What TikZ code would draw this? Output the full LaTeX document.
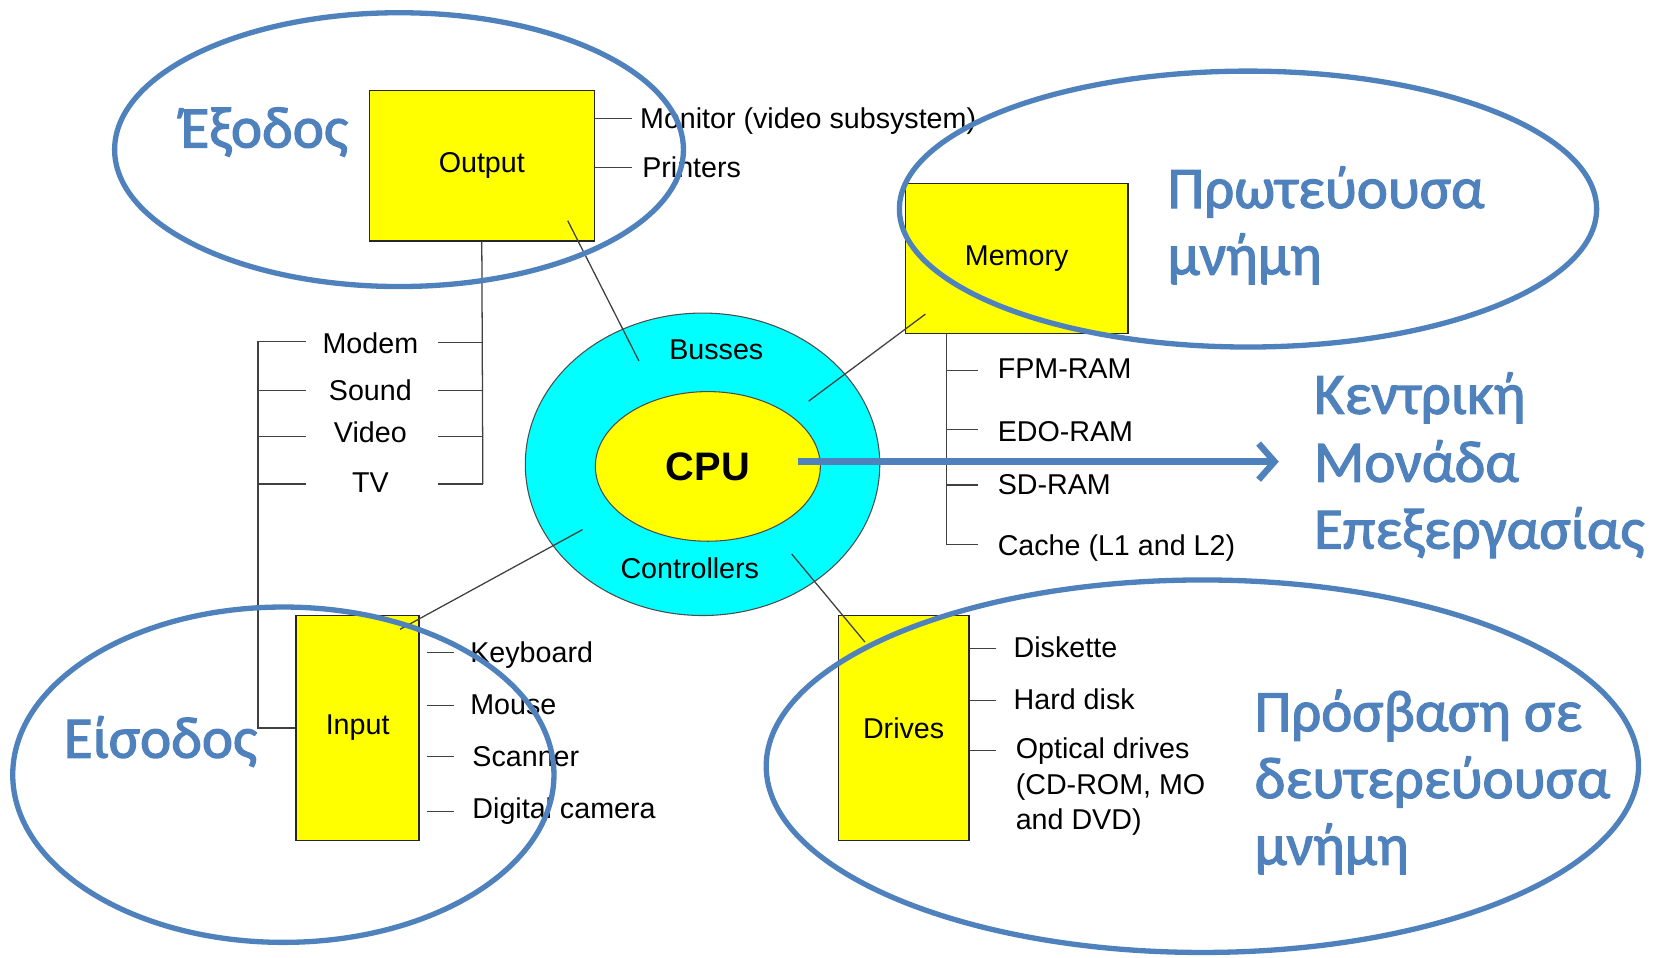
\documentclass[tikz,border=0pt]{standalone}
\usepackage{fontspec}
\setmainfont{Liberation Sans}
\newfontfamily\greekfont{Carlito}
\usetikzlibrary{shapes.geometric,arrows.meta}
\definecolor{ringblue}{RGB}{79,129,189}
\definecolor{hwyellow}{RGB}{255,255,0}
\definecolor{buscyan}{RGB}{0,255,255}
% captions are set slightly heavier: fill plus a thin outline of the glyphs
\newcommand\thickglyphs[1]{\special{pdf:code 2 Tr 1.1 w}#1\special{pdf:code 0 Tr}}

\begin{document}
\begin{tikzpicture}[x=1pt,y=-1pt,
  hwbox/.style={draw=black!85, line width=1.3pt, fill=hwyellow, inner sep=0pt,
                font=\fontsize{27}{30}\selectfont},
  wire/.style={draw=black!75, line width=1.2pt},
  lbl/.style={font=\fontsize{27}{30}\selectfont, inner sep=0pt, anchor=base west},
  clbl/.style={font=\fontsize{27}{30}\selectfont, inner sep=0pt, anchor=base},
  grp/.style={draw=ringblue, line width=5pt, ellipse, inner sep=0pt},
  gtext/.style={font=\greekfont\fontsize{55.5}{60}\selectfont, text=ringblue,
                inner sep=0pt, anchor=base west},
]
\useasboundingbox (0,0) rectangle (1568,902);

% --- CPU with busses and controllers ring
\node[ellipse, draw=black!70, line width=1pt, fill=buscyan,
      minimum width=334pt, minimum height=285pt] (ring) at (662,437.5) {};
\node[ellipse, draw=black!70, line width=1pt, fill=hwyellow,
      minimum width=212pt, minimum height=141pt,
      font=\bfseries\fontsize{37.5}{40}\selectfont] (core) at (667,439.5) {CPU};
\node[clbl] (busses) at (675,339) {Busses};
\node[clbl] (ctrl) at (650,545) {Controllers};

% --- hardware boxes
\node[hwbox, minimum width=212pt, minimum height=142pt] (outbox) at (454,156) {Output};
\node[hwbox, minimum width=210pt, minimum height=141pt] (membox) at (958,243.5) {Memory};
\node[hwbox, minimum width=116pt, minimum height=212pt] (inbox) at (337,686) {Input};
\node[hwbox, minimum width=123pt, minimum height=212pt] (drvbox) at (851.5,686) {Drives};

% --- links between the boxes and the ring
\coordinate (o1) at (535,208);  \coordinate (b1) at (602,340);
\coordinate (m1) at (872,296);  \coordinate (b2) at (762,378);
\coordinate (c1) at (549,499);  \coordinate (i1) at (377,593);
\coordinate (c2) at (746,522);  \coordinate (d1) at (815,605);
\draw[wire] (o1) -- (b1);
\draw[wire] (m1) -- (b2);
\draw[wire] (c1) -- (i1);
\draw[wire] (c2) -- (d1);

% --- output devices
\draw[wire] (outbox.east |- 0,112) -- ++(35,0);
\draw[wire] (outbox.east |- 0,158) -- ++(35,0);
\node[lbl] (monitor) at (603,121) {Monitor (video subsystem)};
\node[lbl] (printers) at (605,167) {Printers};

% --- expansion cards, shared by output and input
\draw[wire] (outbox.south) -- (455,456);
\foreach \yy in {323,368,411,456} { \draw[wire] (413,\yy) -- (455,\yy); }
\draw[wire] (288,322) -- (243,322) -- (243,686) -- (inbox.west |- 0,686);
\foreach \yy in {368,411,456} { \draw[wire] (243,\yy) -- (288,\yy); }
\node[clbl] (modem) at (349,333) {Modem};
\node[clbl] (sound) at (349,377) {Sound};
\node[clbl] (video) at (349,417) {Video};
\node[clbl] (tv) at (349,464) {TV};

% --- memory types
\draw[wire] (892,0 |- membox.south) -- (892,513) -- (922,513);
\foreach \yy in {349,405,457} { \draw[wire] (892,\yy) -- (922,\yy); }
\node[lbl] (fpm) at (940,357) {FPM-RAM};
\node[lbl] (edo) at (940,416) {EDO-RAM};
\node[lbl] (sdr) at (940,466) {SD-RAM};
\node[lbl] (cache) at (940,523) {Cache (L1 and L2)};

% --- input devices
\foreach \yy in {615,665,713,765} { \draw[wire] (402,\yy) -- (428,\yy); }
\node[lbl] (kbd) at (443,624) {Keyboard};
\node[lbl] (mouse) at (443,673) {Mouse};
\node[lbl] (scan) at (445,722) {Scanner};
\node[lbl] (cam) at (445,771) {Digital camera};

% --- drives
\foreach \yy in {611,660,707} { \draw[wire] (drvbox.east |- 0,\yy) -- ++(25,0); }
\node[lbl] (disk) at (955,620) {Diskette};
\node[lbl] (hdd) at (955,669) {Hard disk};
\node[lbl] (opt1) at (957,715) {Optical drives};
\node[lbl] (opt2) at (957,749) {(CD-ROM, MO};
\node[lbl] (opt3) at (957,782) {and DVD)};

% --- grouping ellipses
\node[grp, minimum width=536pt, minimum height=258pt] (gout) at (376,141) {};
\node[grp, minimum width=657pt, minimum height=260pt] (gmem) at (1176,197) {};
\node[grp, minimum width=510pt, minimum height=316pt] (gin) at (267,730) {};
\node[grp, minimum width=822pt, minimum height=351pt] (gdrv) at (1133,722) {};

% --- arrow from the CPU to its caption
\coordinate (astart) at (752,435);
\coordinate (atip) at (1205,435);
\draw[ringblue, line width=6pt, -{Straight Barb[length=15pt,width=34pt]}] (astart) -- (atip);

% --- captions
\node[gtext] (t1) at (170,139) {\thickglyphs{Έξοδος}};
\node[gtext] (t2a) at (1100,196) {\thickglyphs{Πρωτεύουσα}};
\node[gtext] (t2b) at (1100,259) {\thickglyphs{μνήμη}};
\node[gtext] (t3a) at (1238,390) {\thickglyphs{Κεντρική}};
\node[gtext] (t3b) at (1238,454) {\thickglyphs{Μονάδα}};
\node[gtext] (t3c) at (1238,517) {\thickglyphs{Επεξεργασίας}};
\node[gtext] (t4a) at (1182,689) {\thickglyphs{Πρόσβαση σε}};
\node[gtext] (t4b) at (1182,752) {\thickglyphs{δευτερεύουσα}};
\node[gtext] (t4c) at (1182,815) {\thickglyphs{μνήμη}};
\node[gtext] (t5) at (60,714) {\thickglyphs{Είσοδος}};
\end{tikzpicture}
\end{document}
